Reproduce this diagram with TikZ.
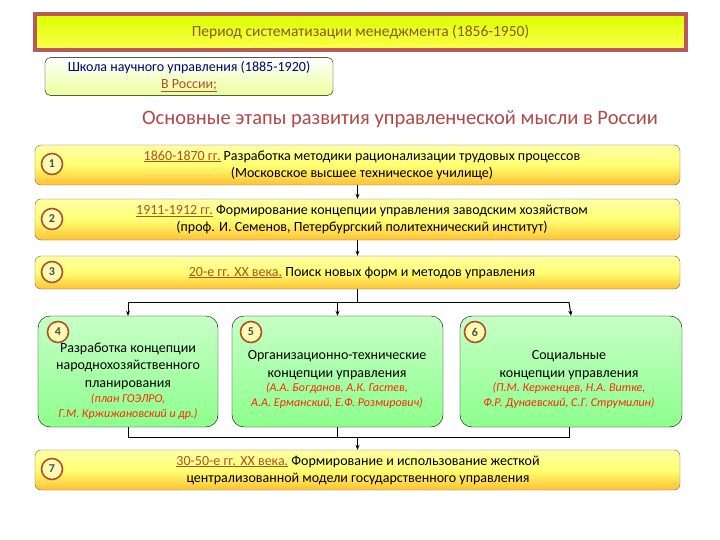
\documentclass[tikz,border=0pt]{standalone}
\usepackage{fontspec}
\setmainfont{Carlito}
\usetikzlibrary{arrows.meta}
\definecolor{brn}{HTML}{B0502A}
\definecolor{ttl}{HTML}{8A5A20}
\definecolor{hd}{HTML}{B04848}
\definecolor{nm}{HTML}{A04020}
\tikzset{
 ybox/.style={draw=black!60,rounded corners=6pt,top color=yellow!35!white,bottom color=orange!60!yellow!80!white,middle color=yellow!55!white,shading angle=0},
 gbox/.style={draw=black,rounded corners=12pt,top color=green!22!white,bottom color=green!45!white},
 num/.style={circle,draw=brn,line width=1.6pt,fill=yellow!30,minimum size=21pt,inner sep=0pt,font=\fontsize{12}{13}\selectfont\bfseries,text=black!70},
 txt/.style={align=center,font=\fontsize{14}{17}\selectfont},
 gt/.style={align=center,font=\fontsize{14}{17.5}\selectfont},
 it/.style={align=center,font=\fontsize{12}{15}\selectfont\itshape,text=red!70!orange},
 con/.style={line width=1pt},
 arr/.style={line width=1pt,-{Stealth[length=5pt,width=4pt]}}
}
\newcommand{\yr}[1]{\textcolor{brn}{\underline{#1}}}
\begin{document}
\begin{tikzpicture}[x=1pt,y=-1pt]
\useasboundingbox (0,0) rectangle (720,540);
\node[draw=hd!90,line width=4pt,top color=lime!60!yellow,bottom color=yellow!70,minimum width=651pt,minimum height=36pt,font=\fontsize{15.5}{17}\selectfont,text=ttl] (title) at (360.5,32.5) {Период систематизации менеджмента (1856-1950)};
\node[draw=black,rounded corners=5pt,top color=white,bottom color=green!20!yellow!40,minimum width=288pt,minimum height=37pt,align=center,font=\fontsize{14}{17}\selectfont] (school) at (189,76.5) {\textcolor{blue!50!black}{Школа научного управления (1885-1920)}\\ \textcolor{brn}{\underline{В России;}}};
\node[font=\fontsize{20.5}{22}\selectfont,text=hd] (head) at (400,119) {Основные этапы развития управленческой мысли в России};
\node[ybox,minimum width=645pt,minimum height=40pt] (b1) at (357.5,165) {};
\node[txt] (t1) at (362,165) {\yr{1860-1870 гг.} Разработка методики рационализации трудовых процессов\\(Московское высшее техническое училище)};
\node[num] (n1) at (52,164) {1};
\node[ybox,minimum width=645pt,minimum height=41pt] (b2) at (357.5,219.5) {};
\node[txt] (t2) at (362,219.5) {\yr{1911-1912 гг.} Формирование концепции управления заводским хозяйством\\(проф. И. Семенов, Петербургский политехнический институт)};
\node[num] (n2) at (52,219) {2};
\node[ybox,minimum width=645pt,minimum height=33pt] (b3) at (357.5,272.5) {};
\node[txt] (t3) at (362,272.5) {\yr{20-е гг. XX века.} Поиск новых форм и методов управления};
\node[num] (n3) at (52,272) {3};
\node[gbox,minimum width=180pt,minimum height=111pt] (b4) at (128,371.5) {};
\node[gbox,minimum width=211pt,minimum height=111pt] (b5) at (337.5,371.5) {};
\node[gbox,minimum width=222pt,minimum height=111pt] (b6) at (571,371.5) {};
\node[num] (n4) at (58,332) {4};
\node[num] (n5) at (251,332) {5};
\node[num] (n6) at (475,332) {6};
\node[gt] (t4) at (128,366) {Разработка концепции\\народнохозяйственного\\планирования};
\node[it] (s4) at (128,407) {(план ГОЭЛРО,\\Г.М. Кржижановский и др.)};
\node[gt] (t5) at (337,365) {Организационно-технические\\концепции управления};
\node[it] (s5) at (337,396) {(А.А. Богданов, А.К. Гастев,\\А.А. Ерманский, Е.Ф. Розмирович)};
\node[gt] (t6) at (569,365) {Социальные\\концепции управления};
\node[it] (s6) at (569,396) {(П.М. Керженцев, Н.А. Витке,\\Ф.Р. Дунаевский, С.Г. Струмилин)};
\node[ybox,minimum width=645pt,minimum height=40pt] (b7) at (357.5,470) {};
\node[txt] (t7) at (358,470) {\yr{30-50-е гг. XX века.} Формирование и использование жесткой\\централизованной модели государственного управления};
\node[num] (n7) at (52,469) {7};
\draw[arr] (b1.south) -- (b2.north);
\draw[arr] (b2.south) -- (b3.north);
\coordinate (br) at (357.5,302);
\draw[con] (b3.south) -- (br);
\draw[con] (128,302) -- (569,302);
\draw[arr] (128,302) -- (b4.north);
\draw[arr] (337.5,302) -- (b5.north);
\draw[arr] (569,302) -- (b6.north);
\draw[con] (b4.south) -- (128,437) -- (569,437) -- (569,427);
\draw[con] (b5.south) -- (337.5,437);
\draw[arr] (357.5,437) -- (b7.north);
\end{tikzpicture}
\end{document}
